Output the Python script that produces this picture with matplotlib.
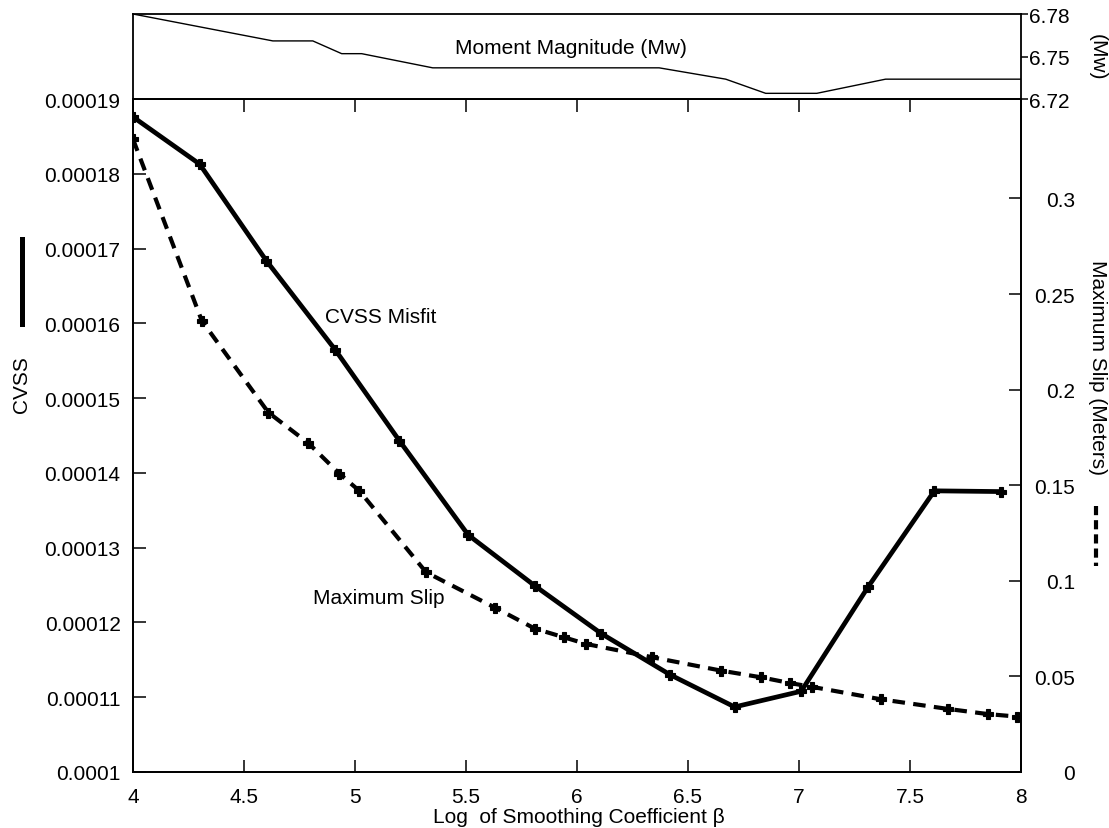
import matplotlib
matplotlib.use("Agg")
import matplotlib.pyplot as plt
from matplotlib.lines import Line2D

plt.rcParams["font.family"] = ["Liberation Sans", "DejaVu Sans"]

# CVSS misfit (left axis)
cvss_beta = [4.0, 4.3, 4.6, 4.91, 5.2, 5.51, 5.81, 6.11, 6.42, 6.71, 7.01, 7.31, 7.61, 7.91]
cvss_vals = [0.0001876, 0.0001813, 0.0001684, 0.0001565, 0.0001443, 0.0001317, 0.0001249,
             0.0001185, 0.0001130, 0.0001087, 0.0001108, 0.0001247, 0.0001376, 0.0001375]

# maximum slip (right axis, meters)
slip_beta = [4.0, 4.31, 4.61, 4.79, 4.93, 5.02, 5.32, 5.63, 5.81, 5.94, 6.04,
             6.34, 6.65, 6.83, 6.96, 7.06, 7.37, 7.67, 7.85, 7.98]
slip_vals = [0.331, 0.236, 0.188, 0.172, 0.156, 0.147, 0.1045, 0.086, 0.075, 0.0705, 0.067,
             0.060, 0.053, 0.0495, 0.0465, 0.0445, 0.038, 0.033, 0.0303, 0.029]

# moment magnitude (top panel)
mw_beta = [4.0, 4.63, 4.81, 4.94, 5.03, 5.35, 6.37, 6.67, 6.85, 7.08, 7.39, 8.0]
mw_vals = [6.78, 6.761, 6.761, 6.752, 6.752, 6.742, 6.742, 6.734, 6.724, 6.724, 6.734, 6.734]

left_ticks = [0.0001, 0.00011, 0.00012, 0.00013, 0.00014, 0.00015, 0.00016, 0.00017, 0.00018, 0.00019]
left_labels = ["0.0001", "0.00011", "0.00012", "0.00013", "0.00014", "0.00015",
               "0.00016", "0.00017", "0.00018", "0.00019"]
right_ticks = [0, 0.05, 0.1, 0.15, 0.2, 0.25, 0.3]
right_labels = ["0", "0.05", "0.1", "0.15", "0.2", "0.25", "0.3"]
x_ticks = [4, 4.5, 5, 5.5, 6, 6.5, 7, 7.5, 8]
x_labels = ["4", "4.5", "5", "5.5", "6", "6.5", "7", "7.5", "8"]
mw_ticks = [6.72, 6.75, 6.78]

W, H = 1109, 829
FS = 15
SPINE = 1.3

fig = plt.figure(figsize=(W / 100, H / 100), dpi=100)
fig.patch.set_facecolor("white")


def fig_text(x, y, s, fs=FS, **kw):
    # x, y in pixels from the top-left corner
    fig.text(x / W, 1 - y / H, s, fontsize=fs, ha="center", va="center", **kw)


L, R = 133 / W, 1021 / W
ax = fig.add_axes([L, 1 - 773 / H, R - L, (773 - 100) / H])
top = fig.add_axes([L, 1 - 100 / H, R - L, 85 / H])

# main panel
ax.plot(cvss_beta, cvss_vals, color="black", lw=3.4, marker="P", ms=7.5, mew=0.8,
        solid_joinstyle="miter", zorder=3)
ax.set_xlim(4, 8)
ax.set_ylim(0.0001, 0.00019)
ax.set_xticks(x_ticks)
ax.set_xticklabels(x_labels)
ax.set_yticks(left_ticks)
ax.set_yticklabels(left_labels)
ax.tick_params(axis="both", direction="in", length=9, width=1.1, labelsize=FS,
               top=True, right=False)
ax.tick_params(axis="x", pad=11)
ax.tick_params(axis="y", pad=9)
for s in ax.spines.values():
    s.set_linewidth(SPINE)

ax2 = ax.twinx()
ax2.plot(slip_beta, slip_vals, color="black", lw=3.0, marker="P", ms=7.5, mew=0.8,
         dashes=(3.0, 2.0), zorder=3)
ax2.set_ylim(0, 0.352)
ax2.set_yticks(right_ticks)
ax2.set_yticklabels(right_labels, ha="right")
ax2.tick_params(axis="y", direction="in", length=9, width=1.1, labelsize=FS, pad=39)
for s in ax2.spines.values():
    s.set_linewidth(SPINE)

fig_text(381, 318, "CVSS Misfit")
fig_text(379, 598, "Maximum Slip")

# top panel: moment magnitude
top.plot(mw_beta, mw_vals, color="black", lw=1.0)
top.set_xlim(4, 8)
top.set_ylim(6.72, 6.78)
top.set_xticks([])
top.set_yticks(mw_ticks)
top.set_yticklabels(["6.72", "6.75", "6.78"])
top.yaxis.tick_right()
top.tick_params(axis="y", direction="out", length=5, width=1.1, labelsize=15, pad=1)
for s in top.spines.values():
    s.set_linewidth(SPINE)
fig_text(571, 49, "Moment Magnitude (Mw)")

# axis titles
fig_text(579, 818, "Log  of Smoothing Coefficient \u03b2")
fig_text(22, 385, "CVSS", rotation=90)
fig_text(1097, 368, "Maximum Slip (Meters)", rotation=270)
fig_text(1097, 57, "(Mw)", rotation=270)

# legend sample bars next to the axis titles
fig.add_artist(Line2D([22 / W, 22 / W], [1 - 240 / H, 1 - 325 / H],
                      color="black", lw=3.6, transform=fig.transFigure))
fig.add_artist(Line2D([1096 / W, 1096 / W], [1 - 507 / H, 1 - 567 / H],
                      color="black", lw=3.0, dashes=(2.2, 1.2), transform=fig.transFigure))

fig.savefig("out.png", dpi=100, facecolor="white")
